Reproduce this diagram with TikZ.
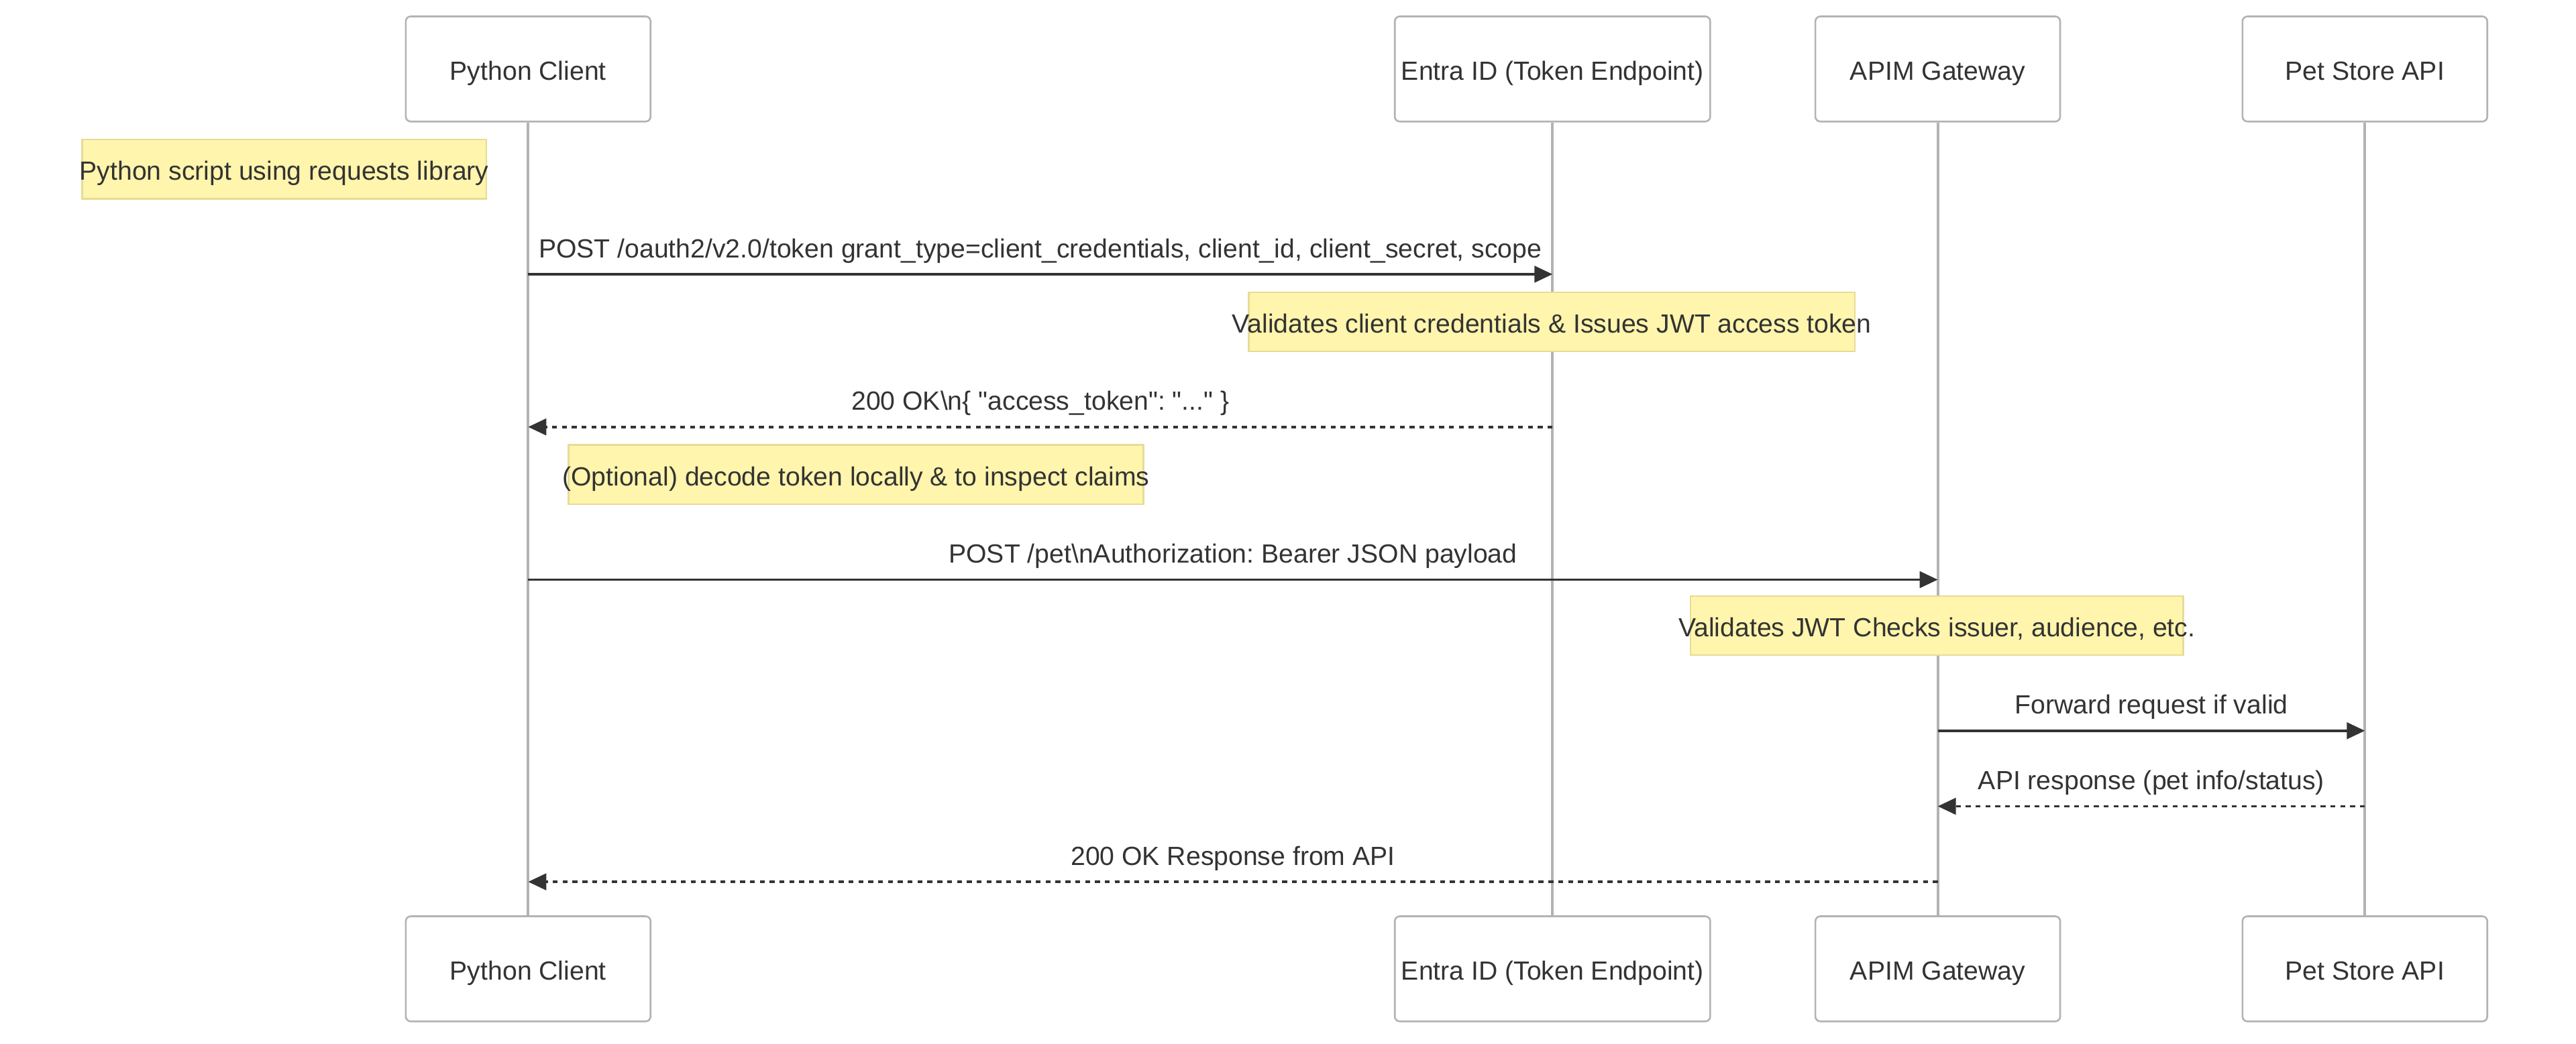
\documentclass[tikz,border=0pt]{standalone}
\usepackage{fontspec}
\setmainfont{Liberation Sans}
\usetikzlibrary{arrows.meta}
\frenchspacing
\definecolor{txtc}{HTML}{333333}
\definecolor{linec}{HTML}{B3B3B3}
\definecolor{notefill}{HTML}{FFF5AD}
\definecolor{notedraw}{HTML}{E6DC96}
\tikzset{
  actorbox/.style={draw=linec, line width=0.8pt, fill=white, rounded corners=2.25pt,
    minimum width=111.75pt, minimum height=48pt, inner sep=0pt,
    text=txtc, text height=10pt, text depth=0pt, font=\fontsize{12pt}{14pt}\selectfont},
  notebox/.style={draw=notedraw, line width=0.8pt, fill=notefill,
    minimum height=27pt, inner sep=0pt},
  notetxt/.style={text=txtc, inner sep=0pt, text height=10pt, text depth=0pt,
    font=\fontsize{12pt}{14pt}\selectfont},
  lifeline/.style={draw=linec, line width=1.2pt},
  msglbl/.style={text=txtc, inner sep=0pt, anchor=base, yshift=7.6pt,
    font=\fontsize{12pt}{14pt}\selectfont},
  msgsolid/.style={draw=txtc, line width=1.1pt,
    -{Triangle[length=8.25pt, width=7.5pt, fill=txtc]}},
  msgdashed/.style={draw=txtc, line width=1.1pt, dash pattern=on 2.25pt off 2.25pt,
    -{Triangle[length=8.25pt, width=7.5pt, fill=txtc]}},
}
\begin{document}
\begin{tikzpicture}[x=0.75pt, y=-0.75pt]
\useasboundingbox[fill=white] (0,0) rectangle (1568,635.4);

% actors top
\node[actorbox] (pcT) at (321.5,42) {Python Client};
\node[actorbox, minimum width=144pt] (enT) at (945,42) {Entra ID (Token Endpoint)};
\node[actorbox] (apT) at (1179.5,42) {APIM Gateway};
\node[actorbox] (psT) at (1439.5,42) {Pet Store API};
% actors bottom
\node[actorbox] (pcB) at (321.5,590) {Python Client};
\node[actorbox, minimum width=144pt] (enB) at (945,590) {Entra ID (Token Endpoint)};
\node[actorbox] (apB) at (1179.5,590) {APIM Gateway};
\node[actorbox] (psB) at (1439.5,590) {Pet Store API};

% lifelines
\draw[lifeline] (pcT.south) -- (pcB.north);
\draw[lifeline] (enT.south) -- (enB.north);
\draw[lifeline] (apT.south) -- (apB.north);
\draw[lifeline] (psT.south) -- (psB.north);

% notes
\node[notebox, minimum width=184.5pt] (n1) at (173,103) {};
\node[notetxt] (n1t) at (n1.center) {Python script using requests library};
\node[notebox, minimum width=276.75pt] (n2) at (944.5,196) {};
\node[notetxt] (n2t) at (n2.center) {Validates client credentials \& Issues JWT access token};
\node[notebox, minimum width=262.5pt] (n3) at (521,289) {};
\node[notetxt] (n3t) at (n3.center) {(Optional) decode token locally \& to inspect claims};
\node[notebox, minimum width=225pt] (n4) at (1179,381) {};
\node[notetxt] (n4t) at (n4.center) {Validates JWT Checks issuer, audience, etc.};

% message end points on lifelines
\coordinate (m1a) at (321.5,167);  \coordinate (m1b) at (945,167);
\coordinate (m2a) at (945,260);    \coordinate (m2b) at (321.5,260);
\coordinate (m3a) at (321.5,353);  \coordinate (m3b) at (1179.5,353);
\coordinate (m4a) at (1179.5,445); \coordinate (m4b) at (1439.5,445);
\coordinate (m5a) at (1439.5,491); \coordinate (m5b) at (1179.5,491);
\coordinate (m6a) at (1179.5,537); \coordinate (m6b) at (321.5,537);

% messages
\draw[msgsolid] (m1a) -- (m1b) node[msglbl, midway] (l1) {POST /oauth2/v2.0/token grant\_type=client\_credentials, client\_id, client\_secret, scope};
\draw[msgdashed] (m2a) -- (m2b) node[msglbl, midway] (l2) {200 OK\textbackslash n\{ \textquotedbl access\_token\textquotedbl: \textquotedbl...\textquotedbl\ \}};
\draw[msgsolid] (m3a) -- (m3b) node[msglbl, midway] (l3) {POST /pet\textbackslash nAuthorization: Bearer JSON payload};
\draw[msgsolid] (m4a) -- (m4b) node[msglbl, midway] (l4) {Forward request if valid};
\draw[msgdashed] (m5a) -- (m5b) node[msglbl, midway] (l5) {API response (pet info/status)};
\draw[msgdashed] (m6a) -- (m6b) node[msglbl, midway] (l6) {200 OK Response from API};
\end{tikzpicture}
\end{document}
